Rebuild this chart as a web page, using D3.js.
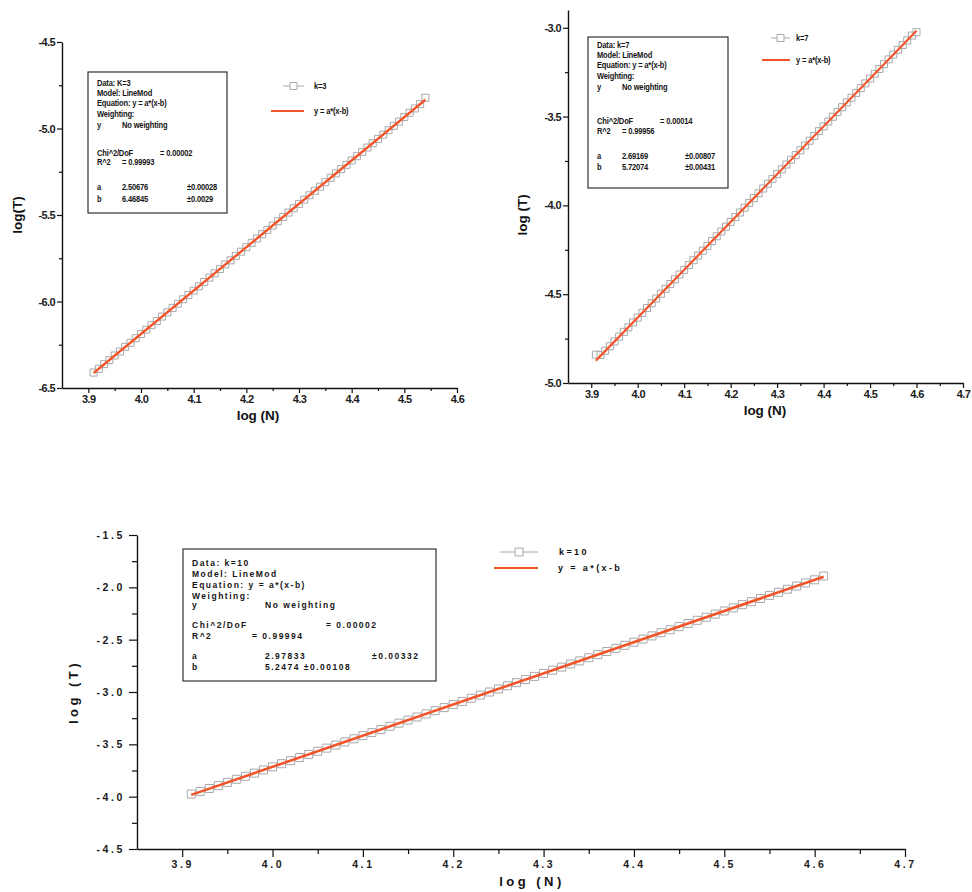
<!DOCTYPE html>
<html><head><meta charset="utf-8">
<script src="https://cdn.jsdelivr.net/npm/d3@7/dist/d3.min.js"></script>
<style>
html,body{margin:0;padding:0;background:#fff;}
svg{display:block;font-family:"Liberation Sans",Arial,sans-serif;}
.axis .domain{stroke:#111;stroke-width:1.4;}
.axis line{stroke:#111;stroke-width:1.2;}
.axis text{fill:#1a1a1a;font-weight:bold;}
text{font-weight:bold;}
</style></head>
<body>
<svg id="c" width="972" height="892"></svg>
<script>
// ---------------- DATA ----------------
const k3X = [3.91,3.92,3.93,3.94,3.95,3.96,3.97,3.98,3.99,4.00,4.01,4.02,4.03,4.04,4.05,4.06,4.07,4.08,4.09,4.10,4.11,4.12,4.13,4.14,4.15,4.16,4.17,4.18,4.19,4.20,4.21,4.22,4.23,4.24,4.25,4.26,4.27,4.28,4.29,4.30,4.31,4.32,4.33,4.34,4.35,4.36,4.37,4.38,4.39,4.40,4.41,4.42,4.43,4.44,4.45,4.46,4.47,4.48,4.49,4.50,4.51,4.52,4.53,4.54];
const k3Y = [-6.411,-6.389,-6.362,-6.339,-6.312,-6.289,-6.262,-6.239,-6.212,-6.188,-6.163,-6.137,-6.113,-6.087,-6.063,-6.037,-6.013,-5.987,-5.962,-5.937,-5.912,-5.887,-5.862,-5.837,-5.812,-5.786,-5.762,-5.736,-5.712,-5.686,-5.661,-5.636,-5.611,-5.586,-5.561,-5.536,-5.511,-5.486,-5.461,-5.436,-5.411,-5.386,-5.360,-5.336,-5.310,-5.285,-5.260,-5.235,-5.210,-5.185,-5.160,-5.135,-5.110,-5.085,-5.060,-5.035,-5.010,-4.985,-4.960,-4.934,-4.909,-4.884,-4.859,-4.822];
const k3FitX = [3.91, 4.54];
const k3FitY = [-6.413, -4.834];

const k7X = [3.91,3.92,3.93,3.94,3.95,3.96,3.97,3.98,3.99,4.00,4.01,4.02,4.03,4.04,4.05,4.06,4.07,4.08,4.09,4.10,4.11,4.12,4.13,4.14,4.15,4.16,4.17,4.18,4.19,4.20,4.21,4.22,4.23,4.24,4.25,4.26,4.27,4.28,4.29,4.30,4.31,4.32,4.33,4.34,4.35,4.36,4.37,4.38,4.39,4.40,4.41,4.42,4.43,4.44,4.45,4.46,4.47,4.48,4.49,4.50,4.51,4.52,4.53,4.54,4.55,4.56,4.57,4.58,4.59,4.60];
const k7Y = [-4.840,-4.842,-4.818,-4.793,-4.766,-4.739,-4.712,-4.686,-4.659,-4.632,-4.605,-4.578,-4.551,-4.524,-4.497,-4.470,-4.443,-4.416,-4.389,-4.363,-4.336,-4.309,-4.282,-4.255,-4.228,-4.201,-4.174,-4.147,-4.120,-4.093,-4.066,-4.040,-4.013,-3.986,-3.959,-3.932,-3.905,-3.878,-3.851,-3.824,-3.797,-3.770,-3.743,-3.717,-3.690,-3.663,-3.636,-3.609,-3.582,-3.555,-3.528,-3.501,-3.474,-3.447,-3.420,-3.394,-3.367,-3.340,-3.313,-3.286,-3.259,-3.232,-3.205,-3.178,-3.151,-3.124,-3.097,-3.071,-3.044,-3.025];
const k7FitX = [3.91, 4.60];
const k7FitY = [-4.874, -3.017];

const k10X = [3.91,3.92,3.93,3.94,3.95,3.96,3.97,3.98,3.99,4.00,4.01,4.02,4.03,4.04,4.05,4.06,4.07,4.08,4.09,4.10,4.11,4.12,4.13,4.14,4.15,4.16,4.17,4.18,4.19,4.20,4.21,4.22,4.23,4.24,4.25,4.26,4.27,4.28,4.29,4.30,4.31,4.32,4.33,4.34,4.35,4.36,4.37,4.38,4.39,4.40,4.41,4.42,4.43,4.44,4.45,4.46,4.47,4.48,4.49,4.50,4.51,4.52,4.53,4.54,4.55,4.56,4.57,4.58,4.59,4.60,4.61];
const k10Y = [-3.975,-3.950,-3.922,-3.894,-3.864,-3.834,-3.805,-3.775,-3.745,-3.715,-3.685,-3.656,-3.626,-3.596,-3.566,-3.536,-3.507,-3.477,-3.447,-3.417,-3.388,-3.358,-3.328,-3.298,-3.268,-3.239,-3.209,-3.179,-3.149,-3.120,-3.090,-3.060,-3.030,-3.000,-2.971,-2.941,-2.911,-2.881,-2.851,-2.822,-2.792,-2.762,-2.732,-2.703,-2.673,-2.643,-2.613,-2.583,-2.554,-2.524,-2.494,-2.464,-2.434,-2.405,-2.375,-2.345,-2.315,-2.286,-2.256,-2.226,-2.196,-2.166,-2.137,-2.107,-2.077,-2.047,-2.018,-1.988,-1.958,-1.928,-1.892];
const k10FitX = [3.91, 4.61];
const k10FitY = [-3.983, -1.898];

const xTicks1 = [3.9,4.0,4.1,4.2,4.3,4.4,4.5,4.6];
const xTickLabels1 = ["3.9","4.0","4.1","4.2","4.3","4.4","4.5","4.6"];
const yTicks1 = [-6.5,-6.0,-5.5,-5.0,-4.5];
const yTickLabels1 = ["-6.5","-6.0","-5.5","-5.0","-4.5"];

const xTicks2 = [3.9,4.0,4.1,4.2,4.3,4.4,4.5,4.6,4.7];
const xTickLabels2 = ["3.9","4.0","4.1","4.2","4.3","4.4","4.5","4.6","4.7"];
const yTicks2 = [-5.0,-4.5,-4.0,-3.5,-3.0];
const yTickLabels2 = ["-5.0","-4.5","-4.0","-3.5","-3.0"];

const xTicks3 = [3.9,4.0,4.1,4.2,4.3,4.4,4.5,4.6,4.7];
const xTickLabels3 = ["3.9","4.0","4.1","4.2","4.3","4.4","4.5","4.6","4.7"];
const yTicks3 = [-4.5,-4.0,-3.5,-3.0,-2.5,-2.0,-1.5];
const yTickLabels3 = ["-4.5","-4.0","-3.5","-3.0","-2.5","-2.0","-1.5"];

const box1 = [["Data: K=3"],["Model: LineMod"],["Equation: y = a*(x-b)"],["Weighting:"],["y","No weighting"],["Chi^2/DoF","= 0.00002"],["R^2","= 0.99993"],["a","2.50676","±0.00028"],["b","6.46845","±0.0029"]];
const box2 = [["Data: k=7"],["Model: LineMod"],["Equation: y = a*(x-b)"],["Weighting:"],["y","No weighting"],["Chi^2/DoF","= 0.00014"],["R^2","= 0.99956"],["a","2.69169","±0.00807"],["b","5.72074","±0.00431"]];
const box3 = [["Data: k=10"],["Model: LineMod"],["Equation: y = a*(x-b)"],["Weighting:"],["y","No weighting"],["Chi^2/DoF","= 0.00002"],["R^2","= 0.99994"],["a","2.97833","±0.00332"],["b","5.2474 ±0.00108"]];

const legend1 = ["k=3","y = a*(x-b)"];
const legend2 = ["k=7","y = a*(x-b)"];
const legend3 = ["k=10","y = a*(x-b"];

// ---------------- DRAW ----------------
const svg = d3.select("#c");
const ORANGE = "#f2552a";
const GRAY = "#a8a8a8";

function panel(c){
  const g = svg.append("g");
  const x = d3.scaleLinear().domain(c.xDomain).range([c.left, c.right]);
  const y = d3.scaleLinear().domain(c.yDomain).range([c.bottom, c.top]);

  const xMinor = c.xTicks.slice(0,-1).map(v=>+(v+0.05).toFixed(2)).filter(v=>v<c.xDomain[1]);
  const yMinor = c.yTicks.slice(0,-1).map(v=>+(v+0.25).toFixed(2));
  g.append("g").attr("class","axis").attr("transform",`translate(0,${c.bottom})`)
    .call(d3.axisBottom(x).tickValues(xMinor).tickFormat("").tickSize(c.minor).tickSizeOuter(0))
    .select(".domain").remove();
  g.append("g").attr("class","axis").attr("transform",`translate(${c.left},0)`)
    .call(d3.axisLeft(y).tickValues(yMinor).tickFormat("").tickSize(c.minor).tickSizeOuter(0))
    .select(".domain").remove();

  const xa = g.append("g").attr("class","axis").attr("transform",`translate(0,${c.bottom})`)
    .call(d3.axisBottom(x).tickValues(c.xTicks).tickFormat((d,i)=>c.xLabels[i]).tickSize(c.major).tickSizeOuter(0).tickPadding(c.pad));
  xa.selectAll("text").style("font-size",c.tickFont+"px").style("letter-spacing",c.ls+"px");
  const ya = g.append("g").attr("class","axis").attr("transform",`translate(${c.left},0)`)
    .call(d3.axisLeft(y).tickValues(c.yTicks).tickFormat((d,i)=>c.yLabels[i]).tickSize(c.major).tickSizeOuter(0).tickPadding(c.pad));
  ya.selectAll("text").style("font-size",c.tickFont+"px").style("letter-spacing",c.ls+"px");

  g.append("text").attr("x",c.xTitle[0]).attr("y",c.xTitle[1]).attr("text-anchor","middle")
    .style("font-size",c.titleFont+"px").style("letter-spacing",c.tls+"px").attr("fill","#111").text(c.xTitleText);
  g.append("text").attr("transform",`translate(${c.yTitle[0]},${c.yTitle[1]}) rotate(-90)`).attr("text-anchor","middle")
    .style("font-size",c.titleFont+"px").style("letter-spacing",c.tls+"px").attr("fill","#111").text(c.yTitleText);

  const sym = d3.symbol(d3.symbolSquare, c.ms*c.ms);
  const pts = c.dx.map((v,i)=>[v,c.dy[i]]);
  g.append("path").attr("d",d3.line().x(d=>x(d[0])).y(d=>y(d[1]))(pts)).attr("fill","none").attr("stroke",GRAY).attr("stroke-width",1);
  g.selectAll(null).data(pts).join("path")
    .attr("transform",d=>`translate(${x(d[0])},${y(d[1])})`).attr("d",sym)
    .attr("fill","#fff").attr("fill-opacity",0.6).attr("stroke",GRAY).attr("stroke-width",1);
  const fit = c.fx.map((v,i)=>[v,c.fy[i]]);
  g.append("path").attr("d",d3.line().x(d=>x(d[0])).y(d=>y(d[1]))(fit))
    .attr("fill","none").attr("stroke",ORANGE).attr("stroke-width",c.lw);

  const b = c.box;
  g.append("rect").attr("x",b.x).attr("y",b.y).attr("width",b.w).attr("height",b.h)
    .attr("fill","#fff").attr("stroke","#333").attr("stroke-width",1.2);
  c.boxText.forEach((row,i)=>{
    row.forEach((t,j)=>{
      const cx = b.cols[j][i]!==undefined ? b.cols[j][i] : b.cols[j][0];
      g.append("text").attr("transform",`translate(${cx},${b.rows[i]}) scale(${b.sx},1)`)
        .style("font-size",b.font+"px").style("letter-spacing",b.ls+"px").attr("fill","#151515").text(t);
    });
  });

  const L = c.leg;
  g.append("line").attr("x1",L.g[0]).attr("x2",L.g[1]).attr("y1",L.g[2]).attr("y2",L.g[2]).attr("stroke",GRAY).attr("stroke-width",1);
  g.append("path").attr("transform",`translate(${(L.g[0]+L.g[1])/2},${L.g[2]})`).attr("d",sym).attr("fill","#fff").attr("stroke",GRAY);
  g.append("line").attr("x1",L.o[0]).attr("x2",L.o[1]).attr("y1",L.o[2]).attr("y2",L.o[2]).attr("stroke",ORANGE).attr("stroke-width",2);
  g.append("text").attr("transform",`translate(${L.t[0]},${L.g[2]+3}) scale(${L.sx},1)`).style("font-size",L.font+"px").style("letter-spacing",L.ls+"px").attr("fill","#111").text(c.legText[0]);
  g.append("text").attr("transform",`translate(${L.t[1]},${L.o[2]+3}) scale(${L.sx},1)`).style("font-size",L.font+"px").style("letter-spacing",L.ls+"px").attr("fill","#111").text(c.legText[1]);
}

panel({
  xDomain:[3.85,4.6], yDomain:[-6.5,-4.5], left:62, right:457, top:42, bottom:388,
  xTicks:xTicks1, xLabels:xTickLabels1, yTicks:yTicks1, yLabels:yTickLabels1,
  major:5, minor:3, pad:2, tickFont:11, ls:-0.6,
  xTitle:[258,420], yTitle:[22,215], xTitleText:"log (N)", yTitleText:"log(T)", titleFont:13.5, tls:0,
  dx:k3X, dy:k3Y, fx:k3FitX, fy:k3FitY, ms:7, lw:2.4,
  box:{x:88,y:72,w:139,h:141,font:9,ls:-0.2,sx:0.84,
       rows:[86,96,106,117,128,156,165,190,202],
       cols:[[97],[122,122,122,122,122,160,122,122,122],[187]]},
  boxText:box1,
  leg:{g:[283,304,86],o:[271,304,111],t:[314,314],font:9,ls:-0.2,sx:0.84},
  legText:legend1
});

panel({
  xDomain:[3.85,4.7], yDomain:[-5.0,-2.9], left:568, right:963, top:10, bottom:383,
  xTicks:xTicks2, xLabels:xTickLabels2, yTicks:yTicks2, yLabels:yTickLabels2,
  major:5, minor:3, pad:2, tickFont:11, ls:-0.6,
  xTitle:[765,415], yTitle:[527,215], xTitleText:"log (N)", yTitleText:"log (T)", titleFont:13.5, tls:0,
  dx:k7X, dy:k7Y, fx:k7FitX, fy:k7FitY, ms:7, lw:2.2,
  box:{x:588,y:37,w:140,h:151,font:9,ls:-0.2,sx:0.84,
       rows:[48,58,68,79,90,124,134,159,170],
       cols:[[597],[622,622,622,622,622,660,622,622,622],[685]]},
  boxText:box2,
  leg:{g:[771,790,38],o:[762,790,60],t:[796,796],font:9,ls:-0.2,sx:0.84},
  legText:legend2
});

panel({
  xDomain:[3.85,4.7], yDomain:[-4.5,-1.5], left:137, right:905, top:535, bottom:849,
  xTicks:xTicks3, xLabels:xTickLabels3, yTicks:yTicks3, yLabels:yTickLabels3,
  major:8, minor:5, pad:4, tickFont:10.5, ls:2.6,
  xTitle:[532,886], yTitle:[78,692], xTitleText:"log (N)", yTitleText:"log (T)", titleFont:13, tls:3.5,
  dx:k10X, dy:k10Y, fx:k10FitX, fy:k10FitY, ms:8, lw:2.6,
  box:{x:183,y:549,w:253,h:132,font:8.5,ls:1.5,sx:1,
       rows:[566,577,588,599,608,628,639,659,670],
       cols:[[192],[265,265,265,265,265,326,252,265,265],[372]]},
  boxText:box3,
  leg:{g:[500,538,552],o:[494,538,568],t:[559,558],font:9,ls:2.4,sx:1},
  legText:legend3
});
</script>
</body></html>
